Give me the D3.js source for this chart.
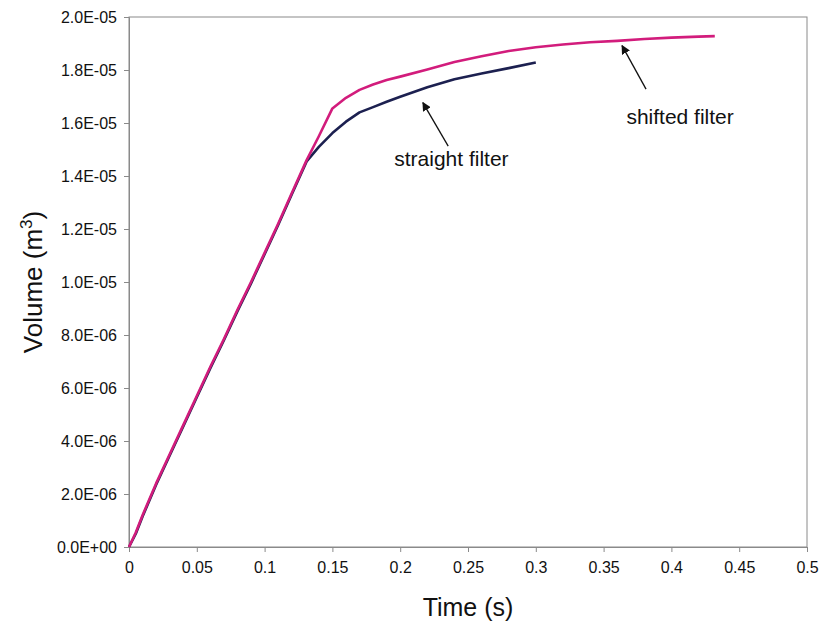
<!DOCTYPE html>
<html>
<head>
<meta charset="utf-8">
<title>Volume vs Time</title>
<style>
    body { margin: 0; background: #fff; }
    svg text { font-family: "Liberation Sans", Arial, sans-serif; fill: #111; }
    .axis path, .axis line { stroke: #8a8a8a; }
    .line { fill: none; stroke-width: 2.6px; stroke-linejoin: round; }
</style>
</head>
<body>
<div id="chart"></div>
<script src="https://d3js.org/d3.v7.min.js"></script>
<script>
// data (volume in units of 1e-6 m^3)
var shiftedTime = [0, 0.005, 0.01, 0.02, 0.03, 0.04, 0.05, 0.06, 0.07, 0.08, 0.09, 0.1, 0.11, 0.12, 0.131,
    0.14, 0.15, 0.16, 0.17, 0.18, 0.19, 0.2, 0.22, 0.24, 0.26, 0.28, 0.3, 0.32, 0.34, 0.36, 0.38, 0.4, 0.42, 0.432];
var shiftedVol = [0, 0.55, 1.2, 2.4, 3.5, 4.6, 5.7, 6.8, 7.85, 8.95, 10.0, 11.1, 12.2, 13.35, 14.6,
    15.5, 16.55, 16.95, 17.25, 17.45, 17.62, 17.75, 18.02, 18.3, 18.52, 18.72, 18.86, 18.96, 19.05, 19.1, 19.17, 19.22, 19.26, 19.28];

var straightTime = [0, 0.005, 0.01, 0.02, 0.03, 0.04, 0.05, 0.06, 0.07, 0.08, 0.09, 0.1, 0.11, 0.12, 0.131,
    0.14, 0.15, 0.16, 0.17, 0.18, 0.19, 0.2, 0.22, 0.24, 0.26, 0.28, 0.3];
var straightVol = [0, 0.5, 1.15, 2.35, 3.45, 4.55, 5.65, 6.75, 7.8, 8.9, 9.95, 11.05, 12.15, 13.3, 14.55,
    15.1, 15.62, 16.05, 16.4, 16.6, 16.8, 16.99, 17.35, 17.65, 17.87, 18.07, 18.28];

var xTicks = [0, 0.05, 0.1, 0.15, 0.2, 0.25, 0.3, 0.35, 0.4, 0.45, 0.5];
var yTicks = [0, 2, 4, 6, 8, 10, 12, 14, 16, 18, 20];

// annotations: [text x, text y, arrow tail x, tail y, tip x, tip y] in data units
var labels = ["shifted filter", "straight filter"];
var labelPos = [
    [0.3668, 15.96, 0.3813, 17.28, 0.3636, 18.92],
    [0.1956, 14.39, 0.2354, 15.13, 0.2167, 16.77]
];

var width = 819, height = 623;
var margin = { top: 17, right: 12, bottom: 76, left: 129 };
var innerW = width - margin.left - margin.right;
var innerH = height - margin.top - margin.bottom;

var svg = d3.select("#chart").append("svg")
    .attr("width", width)
    .attr("height", height);

var g = svg.append("g")
    .attr("transform", "translate(" + margin.left + "," + margin.top + ")");

var x = d3.scaleLinear().domain([0, 0.5]).range([0, innerW]);
var y = d3.scaleLinear().domain([0, 20]).range([innerH, 0]);

// 2.0E-05 style labels
function sci(v) {
    var n = v * 1e-6;
    if (n === 0) return "0.0E+00";
    var e = Math.floor(Math.log10(n) + 1e-9);
    var m = n / Math.pow(10, e);
    var s = e < 0 ? "-" : "+";
    var a = Math.abs(e);
    return m.toFixed(1) + "E" + s + (a < 10 ? "0" + a : a);
}

// plot frame
g.append("rect")
    .attr("width", innerW)
    .attr("height", innerH)
    .attr("fill", "none")
    .attr("stroke", "#8a8a8a");

var xAxis = g.append("g")
    .attr("class", "axis")
    .attr("transform", "translate(0," + innerH + ")")
    .call(d3.axisBottom(x).tickValues(xTicks).tickSize(5).tickPadding(10)
        .tickFormat(function(d) { return String(d); }));
xAxis.selectAll("text").style("font-size", "16px");

var yAxis = g.append("g")
    .attr("class", "axis")
    .call(d3.axisLeft(y).tickValues(yTicks).tickSize(5).tickPadding(7).tickFormat(sci));
yAxis.selectAll("text").style("font-size", "16px");

// lines
var line = d3.line()
    .x(function(d) { return x(d[0]); })
    .y(function(d) { return y(d[1]); });

g.append("path")
    .datum(d3.zip(straightTime, straightVol))
    .attr("class", "line")
    .attr("stroke", "#1c2050")
    .attr("d", line);

g.append("path")
    .datum(d3.zip(shiftedTime, shiftedVol))
    .attr("class", "line")
    .attr("stroke", "#d21c7c")
    .attr("d", line);

// arrows and notes
svg.append("defs").append("marker")
    .attr("id", "head")
    .attr("viewBox", "0 0 10 10")
    .attr("refX", 9).attr("refY", 5)
    .attr("markerWidth", 9).attr("markerHeight", 9)
    .attr("markerUnits", "userSpaceOnUse")
    .attr("orient", "auto")
    .append("path")
    .attr("d", "M0,0 L10,5 L0,10 z")
    .attr("fill", "#111");

labelPos.forEach(function(p, i) {
    g.append("line")
        .attr("x1", x(p[2])).attr("y1", y(p[3]))
        .attr("x2", x(p[4])).attr("y2", y(p[5]))
        .attr("stroke", "#111")
        .attr("stroke-width", 1.3)
        .attr("marker-end", "url(#head)");
    g.append("text")
        .attr("x", x(p[0]))
        .attr("y", y(p[1]))
        .style("font-size", "21px")
        .text(labels[i]);
});

// axis titles
svg.append("text")
    .attr("x", margin.left + innerW / 2)
    .attr("y", 616)
    .attr("text-anchor", "middle")
    .style("font-size", "25px")
    .text("Time (s)");

var yt = svg.append("text")
    .attr("transform", "translate(42," + (margin.top + innerH / 2) + ") rotate(-90)")
    .attr("text-anchor", "middle")
    .style("font-size", "26px");
yt.append("tspan").text("Volume (m");
yt.append("tspan").attr("dy", -10).style("font-size", "17px").text("3");
yt.append("tspan").attr("dy", 10).text(")");
</script>
</body>
</html>
